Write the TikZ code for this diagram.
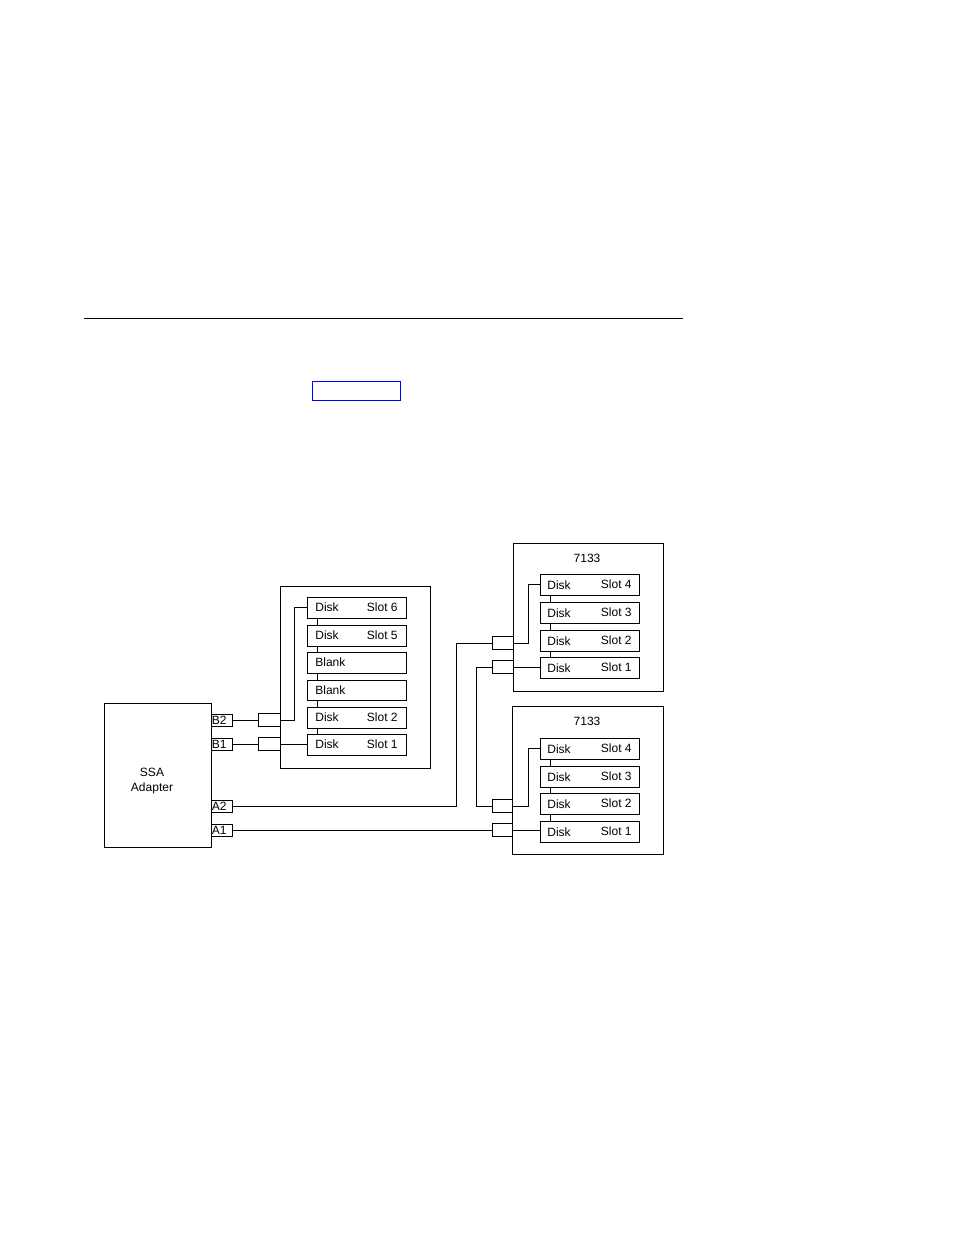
\documentclass[tikz,border=0pt]{standalone}
\usepackage{fontspec}
\setmainfont{Liberation Sans}
\begin{document}
\begin{tikzpicture}[x=1pt,y=-1pt,line width=0.8pt,font=\fontsize{12}{14.5}\selectfont,
 box/.style={draw,rectangle,inner sep=0pt},
 lbl/.style={inner sep=0pt,anchor=west}]
\useasboundingbox (0,0) rectangle (954,1235);
\draw (84,318) -- (683,318);
\draw[blue] (312,381) rectangle (400,400);
% adapter
\draw (104,703) rectangle (211,847);
\node[align=center] (ssa) at (152,781) {SSA\\Adapter};
\foreach \n/\t/\b in {B2/714/726,B1/738/750,A2/800/812,A1/824/836}{
 \draw (211,\t) rectangle (232,\b);
 \node[lbl] (p\n) at (211.5,{(\t+\b)/2}) {\n};
 \coordinate (o\n) at (232,{(\t+\b)/2});
}
% left enclosure
\draw (280,586) rectangle (430,768);
\draw (317,618)--(317,625) (317,646)--(317,652) (317,673)--(317,680) (317,700)--(317,707) (317,728)--(317,734);
\foreach \y/\a in {597/618,625/646,652/673,680/700,707/728,734/755}{
 \draw (307,\y) rectangle (406,\a);
}
\foreach \y/\t/\s in {607/Disk/{Slot 6},635/Disk/{Slot 5},662/Blank/,690/Blank/,717/Disk/{Slot 2},744/Disk/{Slot 1}}{
 \node[lbl] at (315,\y) {\t};
 \node[inner sep=0pt,anchor=east] at (398,\y) {\s};
}
\draw (258,713) rectangle (280,726); \draw (258,737) rectangle (280,750);
\draw (oB2) -- (258,720); \draw (oB1) -- (258,744);
\draw (280,720) -- (294,720) -- (294,607) -- (307,607);
\draw (280,744) -- (307,744);
% right enclosures
\foreach \X/\T/\B/\ya/\yb/\yc/\yd/\ba/\bb in {513/543/691/574/602/630/657/643/667, 512/706/854/738/766/793/821/806/830}{
 \draw (\X,\T) rectangle (663,\B);
 \node at (587,\T+15) {7133};
 \draw (550,\ya+21)--(550,\yb) (550,\yb+21)--(550,\yc) (550,\yc+21)--(550,\yd);
 \foreach \y/\s in {\ya/4,\yb/3,\yc/2,\yd/1}{
  \draw (540,\y) rectangle (639,\y+21);
  \node[lbl] at (547,\y+11) {Disk};
  \node[inner sep=0pt,anchor=east] at (632,\y+10) {Slot \s};
 }
 \draw (492,\ba-7) rectangle (\X,\ba+6);
 \draw (492,\bb-7) rectangle (\X,\bb+6);
 \draw (\X,\ba) -- (528,\ba) -- (528,\ya+10) -- (540,\ya+10);
 \draw (\X,\bb) -- (540,\bb);
}
\draw (oA2) -- (456,806) -- (456,643) -- (492,643);
\draw (492,667) -- (476,667) -- (476,806) -- (492,806);
\draw (oA1) -- (492,830);
\end{tikzpicture}
\end{document}
